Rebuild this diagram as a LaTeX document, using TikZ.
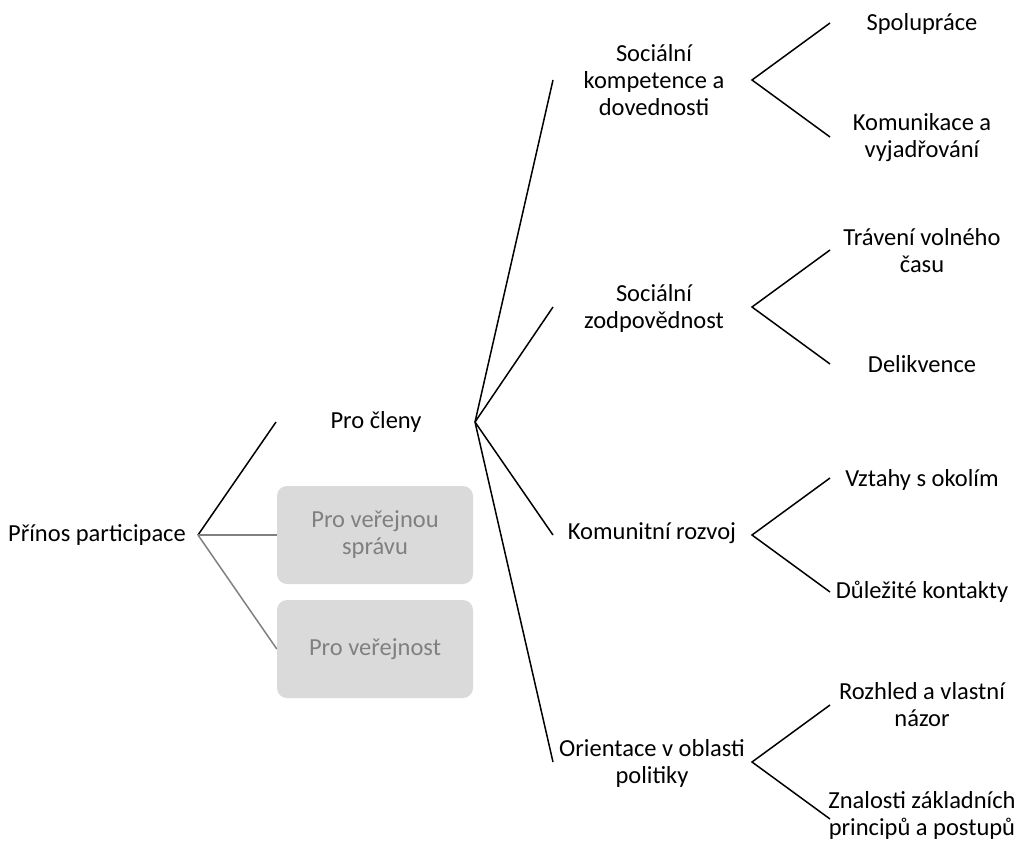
\documentclass[tikz,border=0pt]{standalone}
\usepackage{fontspec}
\setmainfont{Carlito}
\definecolor{boxfill}{RGB}{218,218,218}
\definecolor{boxtext}{RGB}{128,128,128}
\definecolor{greyline}{RGB}{128,128,128}
\begin{document}
\begin{tikzpicture}[x=1pt,y=-1pt,
  lbl/.style={font=\fontsize{24.5}{27}\selectfont, align=center, inner sep=0pt},
  greybox/.style={lbl, fill=boxfill, text=boxtext, rounded corners=10pt, minimum width=196pt, minimum height=98pt},
  blk/.style={draw=black, line width=1.5pt},
  gry/.style={draw=greyline, line width=1.5pt}]
\useasboundingbox (0,0) rectangle (1025,843);
% root
\node[lbl] (root) at (97,535) {Přínos participace};
\coordinate (rootb) at (198,535);
% level 1
\node[lbl] (clen) at (376,422) {Pro členy};
\coordinate (clenL) at (276,422);
\coordinate (clenb) at (475,422);
\node[greybox] (sprava) at (375,535) {Pro veřejnou\\správu};
\node[greybox] (verej) at (375,649) {Pro veřejnost};
\draw[blk] (rootb) -- (clenL);
\draw[gry] (rootb) -- (sprava.west);
\draw[gry] (rootb) -- (verej.west);
% level 2
\node[lbl] (soc) at (654,80) {Sociální\\kompetence a\\dovednosti};
\node[lbl] (zod) at (654,308) {Sociální\\zodpovědnost};
\node[lbl] (kom) at (652,533) {Komunitní rozvoj};
\node[lbl] (ori) at (652,763) {Orientace v oblasti\\politiky};
\coordinate (socL) at (553,80);
\coordinate (zodL) at (553,307);
\coordinate (komL) at (553,535);
\coordinate (oriL) at (553,762);
\draw[blk] (clenb) -- (socL);
\draw[blk] (clenb) -- (zodL);
\draw[blk] (clenb) -- (komL);
\draw[blk] (clenb) -- (oriL);
\coordinate (socb) at (752,80);
\coordinate (zodb) at (752,307);
\coordinate (komb) at (752,535);
\coordinate (orib) at (752,762);
% level 3
\node[lbl] (spo) at (922,24) {Spolupráce};
\node[lbl] (kmn) at (922,138) {Komunikace a\\vyjadřování};
\node[lbl] (tra) at (922,251) {Trávení volného\\času};
\node[lbl] (del) at (922,364) {Delikvence};
\node[lbl] (vzt) at (922,480) {Vztahy s okolím};
\node[lbl] (dul) at (922,592) {Důležité kontakty};
\node[lbl] (roz) at (922,705) {Rozhled a vlastní\\názor};
\node[lbl] (zna) at (922,815) {Znalosti základních\\principů a postupů};
\coordinate (spoL) at (830,23);
\coordinate (kmnL) at (830,137);
\coordinate (traL) at (830,250);
\coordinate (delL) at (830,364);
\coordinate (vztL) at (830,478);
\coordinate (dulL) at (830,592);
\coordinate (rozL) at (830,705);
\coordinate (znaL) at (830,819);
\draw[blk] (spoL) -- (socb) -- (kmnL);
\draw[blk] (traL) -- (zodb) -- (delL);
\draw[blk] (vztL) -- (komb) -- (dulL);
\draw[blk] (rozL) -- (orib) -- (znaL);
\end{tikzpicture}
\end{document}
